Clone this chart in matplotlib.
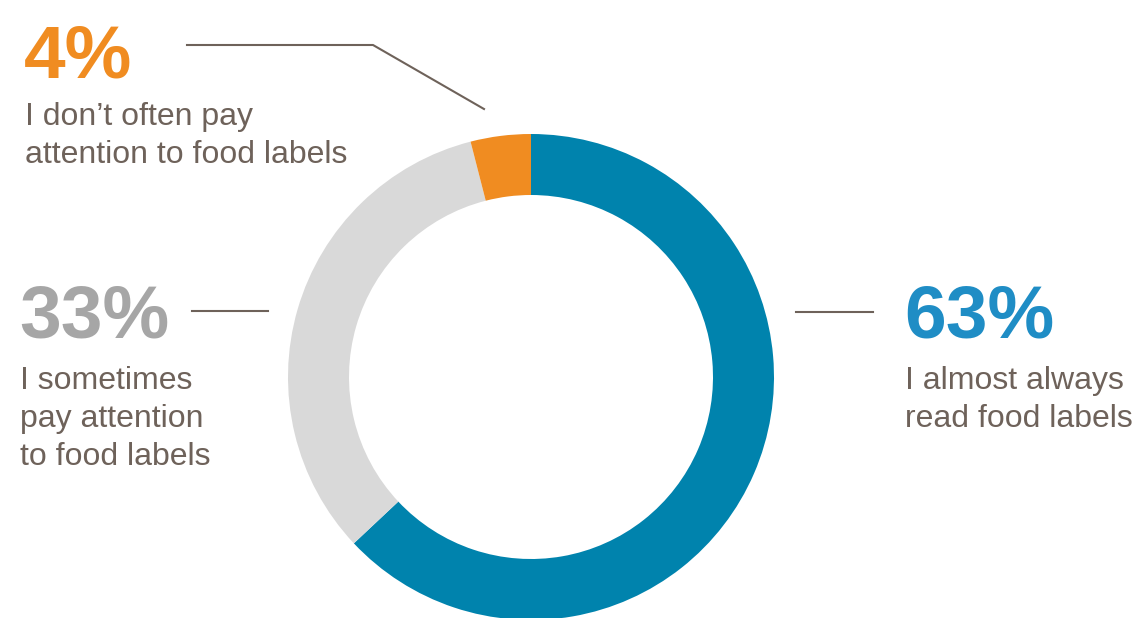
import matplotlib
matplotlib.use("Agg")
import matplotlib.pyplot as plt

# shares, drawn clockwise from 12 o'clock
labels = ["I almost always\nread food labels",
          "I sometimes\npay attention\nto food labels",
          "I don\u2019t often pay\nattention to food labels"]
shares = [63, 33, 4]
pct_text = ["63%", "33%", "4%"]
ring_colors = ["#0083ad", "#d9d9d9", "#f08c21"]
pct_colors = ["#1f8dc5", "#a6a6a6", "#f08c21"]
text_grey = "#6e625a"

W, H = 1135, 618
fig = plt.figure(figsize=(W / 100, H / 100), dpi=100)
ax = fig.add_axes([0, 0, 1, 1])

# donut
ax.pie(shares, colors=ring_colors, radius=243, center=(531, H - 377),
       startangle=90, counterclock=False,
       wedgeprops=dict(width=61, linewidth=0))
ax.set_xlim(0, W)
ax.set_ylim(0, H)
ax.set_aspect("equal")
ax.axis("off")

big = dict(family="Liberation Sans", fontweight="bold", fontsize=54,
           va="baseline")
small = dict(family="Liberation Sans", fontsize=23, color=text_grey,
             va="baseline")

# 63% right
ax.text(904, H - 337, pct_text[0], color=pct_colors[0], **big)
for i, line in enumerate(labels[0].split("\n")):
    ax.text(905, H - 389 - 38 * i, line, **small)
ax.plot([796, 873], [H - 312, H - 312], color=text_grey, lw=1.5)

# 33% left
ax.text(19, H - 337, pct_text[1], color=pct_colors[1], **big)
for i, line in enumerate(labels[1].split("\n")):
    ax.text(20, H - 389 - 38 * i, line, **small)
ax.plot([192, 268], [H - 311, H - 311], color=text_grey, lw=1.5)

# 4% top left
ax.text(24, H - 78, pct_text[2], color=pct_colors[2], **big)
for i, line in enumerate(labels[2].split("\n")):
    ax.text(25, H - 125 - 38 * i, line, **small)
ax.plot([187, 373, 484], [H - 45, H - 45, H - 109], color=text_grey, lw=1.5)

fig.savefig("out.png", dpi=100, facecolor="white")
